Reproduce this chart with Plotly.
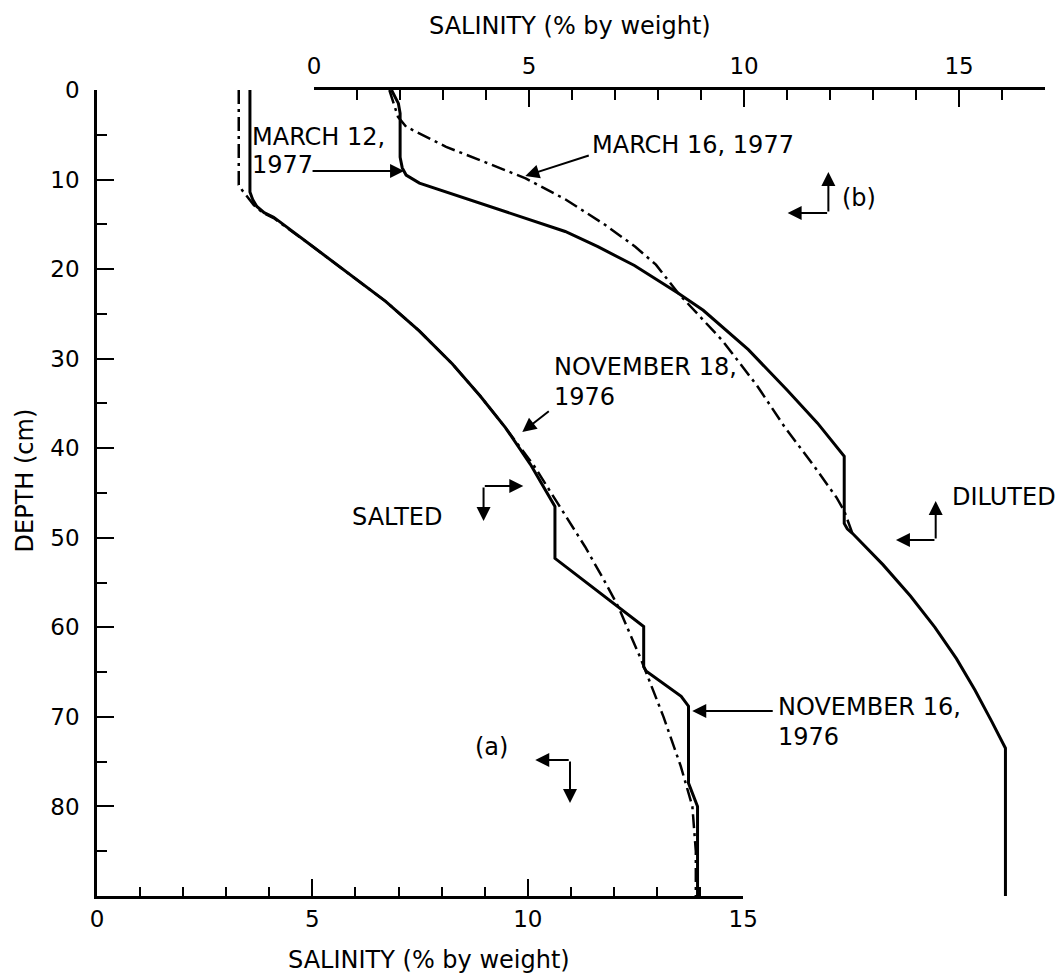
import plotly.graph_objects as go

# ---------------- data ----------------
# (a) SALTED experiment, bottom salinity axis (% by weight) vs depth (cm)
nov16_salinity = [3.55, 3.55, 3.62, 3.71, 3.88, 4.10, 5.00, 5.90, 6.70, 7.48, 8.25, 8.90,
                  9.48, 10.06, 10.63, 10.63, 12.10, 12.69, 12.69, 12.75, 13.56, 13.73,
                  13.73, 13.94, 13.94]
nov16_depth = [0, 11.4, 12.3, 13.0, 13.7, 14.2, 17.45, 20.7, 23.6, 26.9, 30.6, 34.2,
               37.7, 41.8, 46.5, 52.3, 57.7, 59.9, 64.4, 64.9, 67.7, 68.8,
               77.4, 80.0, 90]

nov18_salinity = [3.29, 3.29, 3.37, 3.50, 3.64, 3.85, 4.10, 5.00, 5.90, 6.70, 7.48, 8.25,
                  8.90, 9.48, 10.15, 10.75, 11.33, 11.80, 12.10, 12.63, 13.15, 13.55,
                  13.82, 13.90, 13.90]
nov18_depth = [0, 10.6, 11.2, 12.0, 12.85, 13.7, 14.3, 17.45, 20.7, 23.6, 26.9, 30.6,
               34.2, 37.7, 42.0, 46.5, 51.0, 55.0, 57.7, 63.6, 70.0, 75.5,
               80.0, 85.0, 90]

# (b) DILUTED experiment, top salinity axis (% by weight) vs depth (cm)
mar12_salinity = [1.80, 1.96, 2.00, 2.00, 2.05, 2.14, 2.45, 2.95, 4.40, 5.84, 6.60, 7.45,
                  8.47, 9.05, 10.10, 11.00, 11.71, 12.33, 12.33, 12.40, 12.52, 13.23,
                  13.87, 14.44, 14.94, 15.37, 15.76, 16.08, 16.08]
mar12_depth = [0, 1.5, 2.6, 7.5, 8.7, 9.5, 10.4, 11.2, 13.5, 15.8, 17.5, 19.6,
               22.7, 24.6, 29.0, 33.5, 37.2, 40.9, 48.4, 49.0, 49.5, 53.0,
               56.5, 60.0, 63.5, 67.0, 70.5, 73.5, 90]

mar16_salinity = [1.75, 1.95, 2.14, 3.07, 4.00, 4.92, 5.84, 6.75, 7.47, 7.95, 8.47, 9.50,
                  10.30, 10.94, 11.63, 12.15, 12.33, 12.45, 12.52]
mar16_depth = [0, 3.0, 4.1, 6.35, 8.1, 9.87, 12.2, 15.0, 17.5, 19.5, 22.7, 28.0,
               33.0, 37.6, 42.0, 45.5, 47.0, 48.6, 49.5]

bottom_ticks = [0, 5, 10, 15]
bottom_minor = [1, 2, 3, 4, 6, 7, 8, 9, 11, 12, 13, 14]
top_ticks = [0, 5, 10, 15]
top_minor = [1, 2, 3, 4, 6, 7, 8, 9, 11, 12, 13, 14, 16, 17]
depth_ticks = [0, 10, 20, 30, 40, 50, 60, 70, 80]
depth_minor = [5, 15, 25, 35, 45, 55, 65, 75, 85]

axis_title = "SALINITY (% by weight)"
depth_title = "DEPTH (cm)"

# ---------------- layout geometry ----------------
FIG_W, FIG_H = 1064, 975
ML, MR, MT, MB = 89, 21, 82, 87
PW = FIG_W - ML - MR
PH = FIG_H - MT - MB
FONT = "DejaVu Sans"


def px(x):
    return (x - ML) / PW


def py(y):
    return (FIG_H - MB - y) / PH


fig = go.Figure()

solid = dict(color="black", width=3)
dashdot = dict(color="black", width=2.5, dash="14px,5px,3px,5px")

fig.add_trace(go.Scatter(x=nov16_salinity, y=nov16_depth, mode="lines", line=solid,
                         xaxis="x", yaxis="y", name="November 16, 1976"))
fig.add_trace(go.Scatter(x=nov18_salinity, y=nov18_depth, mode="lines", line=dashdot,
                         xaxis="x", yaxis="y", name="November 18, 1976"))
fig.add_trace(go.Scatter(x=mar12_salinity, y=mar12_depth, mode="lines", line=solid,
                         xaxis="x2", yaxis="y", name="March 12, 1977"))
fig.add_trace(go.Scatter(x=mar16_salinity, y=mar16_depth, mode="lines", line=dashdot,
                         xaxis="x2", yaxis="y", name="March 16, 1977"))

tickfont = dict(family=FONT, size=23, color="black")
bottom_dom_end = px(739.3)
top_dom_start = px(307.5)

fig.update_layout(
    width=FIG_W, height=FIG_H,
    margin=dict(l=ML, r=MR, t=MT, b=MB),
    paper_bgcolor="white", plot_bgcolor="rgba(0,0,0,0)",
    showlegend=False,
    font=dict(family=FONT, size=22, color="black"),
    xaxis=dict(domain=[0, bottom_dom_end], range=[0, 15], anchor="y", side="bottom",
               showline=True, linecolor="black", linewidth=2.5, showgrid=False, zeroline=False,
               tickmode="array", tickvals=bottom_ticks, ticks="inside", ticklen=17,
               tickwidth=2, tickcolor="black", tickfont=tickfont, ticklabelstandoff=1,
               minor=dict(tickmode="array", tickvals=bottom_minor, ticks="inside",
                          ticklen=9, tickwidth=2, tickcolor="black", showgrid=False)),
    xaxis2=dict(domain=[top_dom_start, 1], range=[0, 17], anchor="y", side="top",
                showline=True, linecolor="black", linewidth=2.5, showgrid=False, zeroline=False,
                tickmode="array", tickvals=top_ticks, ticks="inside", ticklen=17,
                tickwidth=2, tickcolor="black", tickfont=tickfont, ticklabelstandoff=4,
                minor=dict(tickmode="array", tickvals=top_minor, ticks="inside",
                           ticklen=10, tickwidth=2, tickcolor="black", showgrid=False)),
    yaxis=dict(domain=[0, 1], range=[90, 0], anchor="x", side="left",
               showline=True, linecolor="black", linewidth=2.5, showgrid=False, zeroline=False,
               tickmode="array", tickvals=depth_ticks, ticks="inside", ticklen=17,
               tickwidth=2, tickcolor="black", tickfont=tickfont, ticklabelstandoff=10,
               minor=dict(tickmode="array", tickvals=depth_minor, ticks="inside",
                          ticklen=10, tickwidth=2, tickcolor="black", showgrid=False)),
)

DX, DY = -5, -6


def label(s, x, y, xanchor="left", size=24, angle=0):
    fig.add_annotation(text=s, x=px(x + DX), y=py(y + DY), xref="paper", yref="paper",
                       showarrow=False, xanchor=xanchor, yanchor="middle",
                       textangle=angle, font=dict(family=FONT, size=size, color="black"))


def arrow(x0, y0, x1, y1):
    # tail (x0, y0) -> head (x1, y1), pixel positions
    fig.add_annotation(text="", x=px(x1), y=py(y1), xref="paper", yref="paper",
                       ax=x0 - x1, ay=y0 - y1, axref="pixel", ayref="pixel",
                       showarrow=True, arrowhead=2, arrowsize=1.4, arrowwidth=2,
                       arrowcolor="black", standoff=0, startstandoff=0)


# axis titles
label(axis_title, 570, 24, xanchor="center", size=24)
label(axis_title, 428, 958, xanchor="center", size=24)
label(depth_title, 22, 478, xanchor="center", size=24, angle=-90)

# curve labels and arrows
label("MARCH 12,", 248, 135)
label("1977", 248, 163)
arrow(305, 163, 398, 163)

label("MARCH 16, 1977", 590, 143)
arrow(585, 147, 520, 168)

label("(b)", 842, 196)
arrow(825, 205, 825, 164)
arrow(825, 205, 784, 205)

label("NOVEMBER 18,", 552, 365)
label("1976", 552, 395)
arrow(545, 402, 517, 424)

label("SALTED", 443, 515, xanchor="right")
arrow(478, 478, 518, 478)
arrow(478, 478, 478, 513)

label("DILUTED", 952, 495)
arrow(933, 532, 933, 493)
arrow(933, 532, 893, 532)

label("(a)", 472, 745)
arrow(565, 752, 530, 752)
arrow(565, 752, 565, 795)

label("NOVEMBER 16,", 777, 705)
label("1976", 777, 735)
arrow(770, 703, 688, 703)

fig.write_html("out.html")
